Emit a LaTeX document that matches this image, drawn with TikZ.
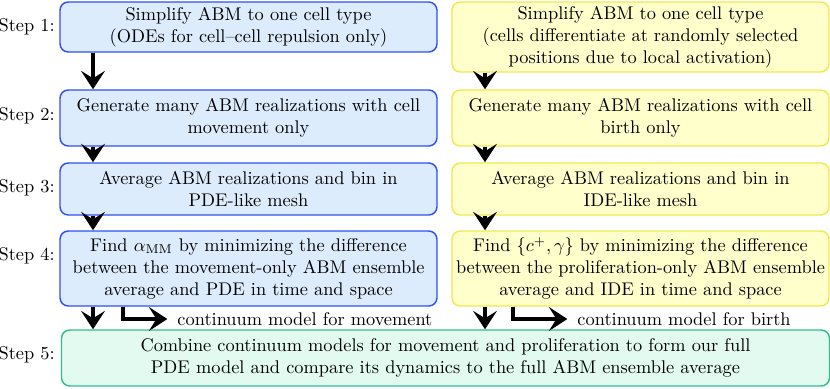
\documentclass[tikz,border=0pt]{standalone}
\usetikzlibrary{arrows.meta}

\definecolor{gerakfill}{RGB}{221,236,252}
\definecolor{gerakline}{RGB}{48,80,240}
\definecolor{lahirfill}{RGB}{255,255,204}
\definecolor{lahirline}{RGB}{240,232,80}
\definecolor{gabungfill}{RGB}{226,250,240}
\definecolor{gabungline}{RGB}{50,190,140}

\newcommand{\satuan}{0.545pt}

\tikzset{
  kotak/.style={draw, thick, rounded corners=4.5pt, align=center, inner sep=2pt,
    minimum width={377*\satuan}},
  gerak/.style={kotak, fill=gerakfill, draw=gerakline},
  lahir/.style={kotak, fill=lahirfill, draw=lahirline},
  gabung/.style={kotak, fill=gabungfill, draw=gabungline, minimum width={768*\satuan}},
  alur/.style={line width=2.4pt, -{Stealth[length=10pt,width=13pt,inset=4pt]}},
  langkah/.style={anchor=east, inner sep=0pt},
}

\begin{document}
\begin{tikzpicture}[x=\satuan, y=-\satuan]
\useasboundingbox (0,0) rectangle (830,388);

% kolom kiri (gerak)
\node[gerak, minimum height={50*\satuan}] (m1) at (248.5,27)
  {Simplify ABM to one cell type\\(ODEs for cell--cell repulsion only)};
\node[gerak, minimum height={56*\satuan}] (m2) at (248.5,118)
  {Generate many ABM realizations with cell\\movement only};
\node[gerak, minimum height={52*\satuan}] (m3) at (248.5,189)
  {Average ABM realizations and bin in\\PDE-like mesh};
\node[gerak, minimum height={75*\satuan}] (m4) at (248.5,268.5)
  {Find $\alpha_{\mathrm{MM}}$ by minimizing the difference\\between the movement-only ABM ensemble\\average and PDE in time and space};

% kolom kanan (kelahiran)
\node[lahir, minimum height={70*\satuan}] (b1) at (640.5,37)
  {Simplify ABM to one cell type\\(cells differentiate at randomly selected\\positions due to local activation)};
\node[lahir, minimum height={56*\satuan}] (b2) at (640.5,118)
  {Generate many ABM realizations with cell\\birth only};
\node[lahir, minimum height={52*\satuan}] (b3) at (640.5,189)
  {Average ABM realizations and bin in\\IDE-like mesh};
\node[lahir, minimum height={75*\satuan}] (b4) at (640.5,268.5)
  {Find $\{c^+,\gamma\}$ by minimizing the difference\\between the proliferation-only ABM ensemble\\average and IDE in time and space};

% kotak gabungan
\node[gabung, minimum height={56*\satuan}] (c5) at (445.5,358)
  {Combine continuum models for movement and proliferation to form our full\\PDE model and compare its dynamics to the full ABM ensemble average};

% label langkah
\foreach \n/\y in {1/27,2/116,3/188,4/256,5/355} {
  \node[langkah] (s\n) at (55,\y) {Step \n:};
}

% panah turun
\coordinate (kiri) at (93,0);
\coordinate (kanan) at (485,0);
\foreach \a/\b in {m1/m2,m2/m3,m3/m4,m4/c5} {
  \draw[alur] (\a.south -| kiri) -- (\b.north -| kiri);
}
\foreach \a/\b in {b1/b2,b2/b3,b3/b4,b4/c5} {
  \draw[alur] (\a.south -| kanan) -- (\b.north -| kanan);
}

% model kontinum
\node[anchor=west] (mg) at (171,319) {continuum model for movement};
\node[anchor=west] (mb) at (571,319) {continuum model for birth};
\coordinate (tekuk1) at (123,0);
\coordinate (tekuk2) at (513,0);
\draw[alur, shorten >=2pt] (m4.south -| tekuk1) |- (mg.west);
\draw[alur, shorten >=2pt] (b4.south -| tekuk2) |- (mb.west);

\end{tikzpicture}
\end{document}
